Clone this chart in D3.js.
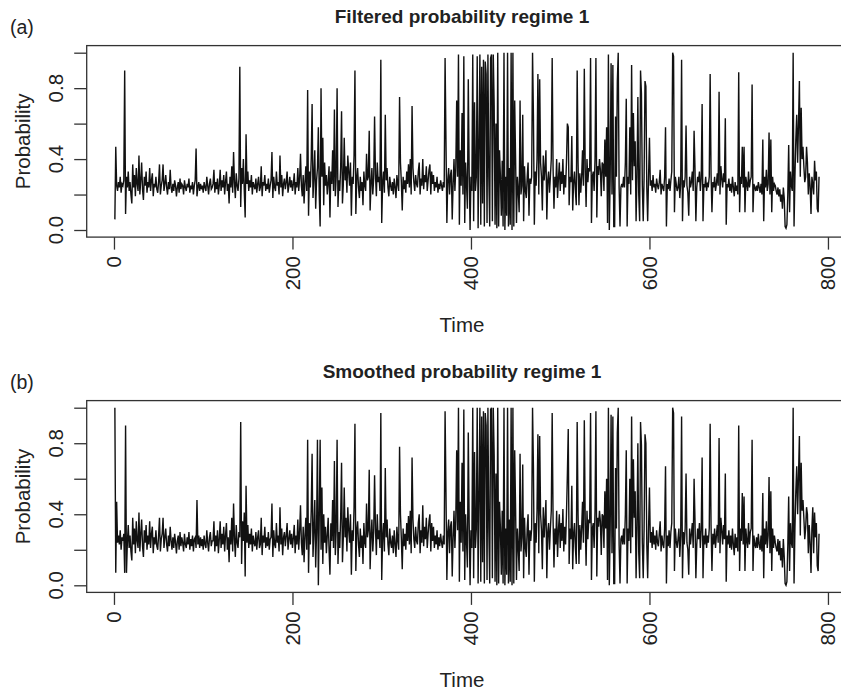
<!DOCTYPE html>
<html><head><meta charset="utf-8">
<script src="https://cdn.jsdelivr.net/npm/d3@7"></script>
<style>body{margin:0;background:#fff}svg{display:block;font-family:"Liberation Sans",Arial,Helvetica,sans-serif}</style>
</head><body><svg id="c" width="841" height="691"></svg>
<script>
// Filtered probability of regime 1 (in percent), t = 1..790
const filtered = [
6,47,25,22,27,24,30,21,26,25, 28,90,9,30,24,33,22,27,20,15, 37,24,31,19,35,26,22,42,20,28, 38,23,17,30,25,33,21,27,24,35,
22,28,32,19,26,24,30,23,21,27, 37,20,25,28,37,22,26,31,24,20, 27,23,34,24,21,26,22,28,25,19, 24,27,21,29,23,26,25,20,28,24,
22,26,24,29,21,25,23,27,20,25, 28,46,19,24,27,22,26,23,25,21, 27,24,22,30,25,20,26,29,23,24, 26,34,21,27,23,29,20,25,34,22,
28,24,31,20,27,33,22,26,15,30, 24,36,21,44,27,18,32,25,22,29, 92,13,35,26,40,22,7,54,26,33, 22,28,24,31,20,27,25,23,29,21,
26,30,22,24,36,19,27,25,31,22, 26,23,29,21,25,28,44,18,30,24, 22,33,25,27,20,42,24,31,19,26, 29,23,27,33,21,25,30,24,28,22,
26,32,20,27,24,35,22,29,43,25, 19,31,15,27,36,22,79,8,33,24, 40,71,18,30,45,12,28,35,58,20, 2,80,30,52,14,38,25,31,20,27,
36,7,33,26,45,22,68,19,30,80, 13,28,22,35,67,15,26,52,28,36, 21,42,33,25,38,8,30,26,42,90, 9,29,35,24,18,30,22,27,14,33,
25,22,43,28,30,56,11,26,35,20, 29,64,31,19,38,27,30,22,96,4, 26,33,21,65,28,35,24,19,30,25, 22,27,20,29,24,18,31,26,22,75,
38,27,11,30,23,28,21,33,26,37, 24,40,20,70,35,27,22,31,26,24, 33,38,20,29,25,40,23,31,27,36, 22,28,34,37,20,33,26,31,22,27,
24,30,21,26,23,28,25,22,27,24, 97,50,4,28,35,20,31,34,6,26, 40,22,35,73,30,99,3,45,25,66, 20,98,4,38,26,12,85,33,0,30,
22,99,5,72,22,30,98,1,48,99, 3,92,15,96,2,95,88,4,99,30, 2,97,99,5,99,70,3,60,1,100, 2,45,30,8,39,2,100,0,30,8,
100,2,35,3,100,0,100,2,73,40, 4,30,22,10,73,20,25,65,5,36, 22,18,30,38,8,29,26,30,100,64, 3,33,25,40,88,20,85,38,30,11,
42,28,35,45,6,28,33,21,30,40, 97,35,12,30,24,40,18,29,38,22, 33,26,40,20,31,24,38,60,58,14, 30,27,53,11,27,33,22,14,90,38,
14,32,21,30,45,25,91,35,13,40, 27,35,33,97,4,30,33,22,40,97, 7,36,31,40,34,19,38,37,22,51, 30,58,4,99,0,30,94,20,93,2,
2,64,30,84,100,24,2,24,26,24, 30,24,38,74,2,30,26,58,20,93, 28,66,36,50,5,30,75,20,5,90, 77,25,5,30,84,81,24,5,30,52,
25,28,22,31,24,26,21,29,25,23, 27,34,20,26,24,22,30,58,2,26, 23,29,22,28,33,100,98,10,30,26, 22,24,30,18,26,96,5,28,24,30,
59,25,21,8,30,24,27,33,22,56, 35,5,24,30,27,33,22,29,71,5, 26,24,30,22,26,25,30,88,32,10, 27,24,30,22,26,32,25,78,20,36,
29,24,32,27,63,3,26,24,29,22, 26,21,30,24,19,27,22,25,20,89, 10,30,26,47,24,47,10,30,26,22, 33,24,28,30,82,10,26,24,22,25,
22,27,24,21,26,20,51,5,30,24, 34,22,26,55,20,51,10,30,22,26, 25,22,20,24,19,23,16,20,12,24, 18,2,1,3,20,48,10,33,25,22,
100,2,30,51,65,38,60,84,30,69, 40,47,36,27,30,47,38,20,32,25, 9,30,26,20,39,28,33,12,10,30
];
// Smoothed probability of regime 1 (in percent), t = 1..790
const smoothed = [
100,7,47,24,28,23,31,20,27,25, 29,7,90,7,24,34,21,28,19,14, 38,23,32,18,36,25,21,41,19,29, 37,22,16,31,24,34,20,28,23,36,
21,29,33,18,27,23,31,22,20,28, 38,19,26,29,38,21,27,32,23,19, 28,22,33,25,20,27,21,29,24,18, 25,28,20,30,22,27,24,19,29,23,
21,27,23,30,20,26,22,28,19,26, 27,21,48,23,28,21,27,22,26,20, 28,23,21,31,24,19,27,30,22,25, 25,36,19,28,22,31,18,26,36,21,
29,23,33,19,28,35,20,27,13,31, 23,38,19,46,26,16,34,24,21,30, 27,92,12,36,25,41,5,56,24,34, 21,29,23,32,19,28,24,22,30,20,
27,31,21,23,38,17,28,24,33,21, 27,22,30,20,26,27,46,16,31,23, 21,35,24,28,19,44,23,32,17,27, 30,22,28,35,20,26,31,23,29,21,
27,34,18,28,23,37,20,30,45,24, 17,33,13,28,38,20,82,7,35,23, 42,74,16,31,48,10,30,82,0,37, 82,20,55,12,40,24,33,18,28,38,
20,6,35,25,48,21,70,17,31,82, 12,30,21,38,69,13,27,55,27,38, 19,44,31,24,40,6,31,25,44,91, 8,31,36,23,16,32,21,28,12,35,
24,21,46,27,31,65,9,27,37,19, 30,62,32,17,40,26,31,21,97,3, 27,35,19,66,27,37,23,17,32,24, 21,28,18,31,23,16,33,25,20,78,
40,26,9,32,22,29,20,35,25,39, 23,42,18,72,37,26,21,33,25,23, 35,40,18,31,24,45,22,33,26,38, 21,29,36,40,19,35,25,33,21,28,
23,31,20,27,22,29,24,21,28,23, 98,52,3,30,37,18,33,36,5,27, 42,21,37,76,31,100,2,47,24,69, 19,99,3,40,25,10,86,35,0,31,
21,100,4,75,21,32,100,1,50,100, 2,95,13,98,1,97,90,3,100,32, 1,99,100,4,100,73,2,63,0,100, 1,47,32,6,42,1,100,0,32,6,
100,1,37,2,100,0,100,1,76,43, 3,32,21,8,74,19,27,68,4,38, 21,16,32,40,6,31,25,32,100,66, 2,35,24,42,85,18,84,40,31,9,
44,27,37,48,4,30,35,20,32,42, 97,37,10,32,23,42,16,31,40,21, 35,25,43,19,33,23,40,62,88,12, 32,26,56,9,29,35,21,12,92,40,
12,34,20,32,47,24,93,37,11,42, 26,37,35,97,3,32,35,21,42,98, 5,38,33,42,36,17,40,39,21,53, 32,60,3,100,0,32,96,18,95,1,
1,66,32,86,100,23,1,26,28,23, 32,23,40,76,1,32,25,60,18,95, 27,71,38,53,4,32,80,18,4,92, 79,24,4,32,85,80,23,4,32,55,
24,30,21,33,23,28,20,31,24,22, 29,36,19,28,23,21,32,67,1,28, 22,31,21,30,35,100,97,8,32,25, 21,26,32,16,28,95,4,30,23,32,
63,24,20,6,32,23,29,35,21,60, 37,4,23,32,26,35,21,31,72,4, 28,23,32,21,28,24,32,91,34,8, 29,23,32,21,28,34,24,83,18,38,
31,23,34,26,63,2,28,23,31,21, 28,20,32,23,17,29,21,27,19,90, 8,32,25,52,23,50,8,32,25,21, 35,23,30,32,82,8,28,23,21,27,
21,29,23,20,28,19,52,4,32,23, 36,21,28,61,18,53,8,32,21,28, 24,21,19,26,17,25,14,21,10,26, 16,1,0,2,22,50,8,35,24,21,
100,1,32,53,67,40,62,84,28,69, 42,48,38,26,32,44,40,18,34,24, 7,32,44,18,41,27,35,11,8,29
];
const yTicks = [0, 0.2, 0.4, 0.6, 0.8, 1.0];
const yTickLabels = ["0.0", "", "0.4", "", "0.8", ""];
const xTicks = [0, 200, 400, 600, 800];
const titles = ["Filtered probability regime 1", "Smoothed probability regime 1"];
const tags = ["(a)", "(b)"];
const xTitle = "Time";
const yTitle = "Probability";

const svg = d3.select("#c");
const ink = "#222";
const panels = [
  {data: filtered, top: 45.6, bottom: 237.1},
  {data: smoothed, top: 400.6, bottom: 592.4}
];
const left = 86.7, right = 847.2;

panels.forEach((p, k) => {
  const n = p.data.length;
  const ext = 0.04 * (n - 1);
  const x = d3.scaleLinear().domain([1 - ext, n + ext]).range([left, right]);
  const y = d3.scaleLinear().domain([-0.04, 1.04]).range([p.bottom, p.top]);
  const g = svg.append("g");

  // series line
  g.append("path")
    .datum(p.data)
    .attr("fill", "none")
    .attr("stroke", "#111")
    .attr("stroke-width", 1.4)
    .attr("stroke-linejoin", "miter")
    .attr("d", d3.line().x((d, i) => x(i + 1)).y(d => y(d / 100)));

  // box
  g.append("rect")
    .attr("x", left).attr("y", p.top)
    .attr("width", right - left).attr("height", p.bottom - p.top)
    .attr("fill", "none").attr("stroke", "#333").attr("stroke-width", 1.3);

  // y axis ticks
  const ya = g.append("g").attr("transform", `translate(${left},0)`)
    .call(d3.axisLeft(y).tickValues(yTicks).tickSize(12.5).tickSizeOuter(0).tickFormat(""));
  ya.select(".domain").remove();
  ya.selectAll("line").attr("stroke", "#333").attr("stroke-width", 1.3);
  g.selectAll(".ylab").data(yTicks).enter().append("text")
    .attr("transform", d => `translate(63,${y(d)}) rotate(-90)`)
    .attr("text-anchor", "middle")
    .style("font-size", "20.5px").attr("fill", ink)
    .text((d, i) => yTickLabels[i]);

  // x axis ticks
  const xa = g.append("g").attr("transform", `translate(0,${p.bottom})`)
    .call(d3.axisBottom(x).tickValues(xTicks).tickSize(12.5).tickSizeOuter(0).tickFormat(""));
  xa.select(".domain").remove();
  xa.selectAll("line").attr("stroke", "#333").attr("stroke-width", 1.3);
  g.selectAll(".xlab").data(xTicks).enter().append("text")
    .attr("transform", d => `translate(${x(d)},${p.bottom + 19}) rotate(-90)`)
    .attr("text-anchor", "end").attr("dy", "0.36em")
    .style("font-size", "20.5px").attr("fill", ink)
    .text(d => d);

  // axis titles
  g.append("text")
    .attr("transform", `translate(30,${(p.top + p.bottom) / 2}) rotate(-90)`)
    .attr("text-anchor", "middle").style("font-size", "20.5px").attr("fill", ink)
    .text(yTitle);
  g.append("text")
    .attr("x", 462).attr("y", p.bottom + 95)
    .attr("text-anchor", "middle").style("font-size", "20.5px").attr("fill", ink)
    .text(xTitle);

  // title and tag
  g.append("text")
    .attr("x", 462).attr("y", p.top - 23)
    .attr("text-anchor", "middle").style("font-size", "19px").style("font-weight", "bold").attr("fill", ink)
    .text(titles[k]);
  g.append("text")
    .attr("x", 10).attr("y", p.top - 12)
    .style("font-size", "19.5px").attr("fill", ink)
    .text(tags[k]);
});
</script></body></html>
